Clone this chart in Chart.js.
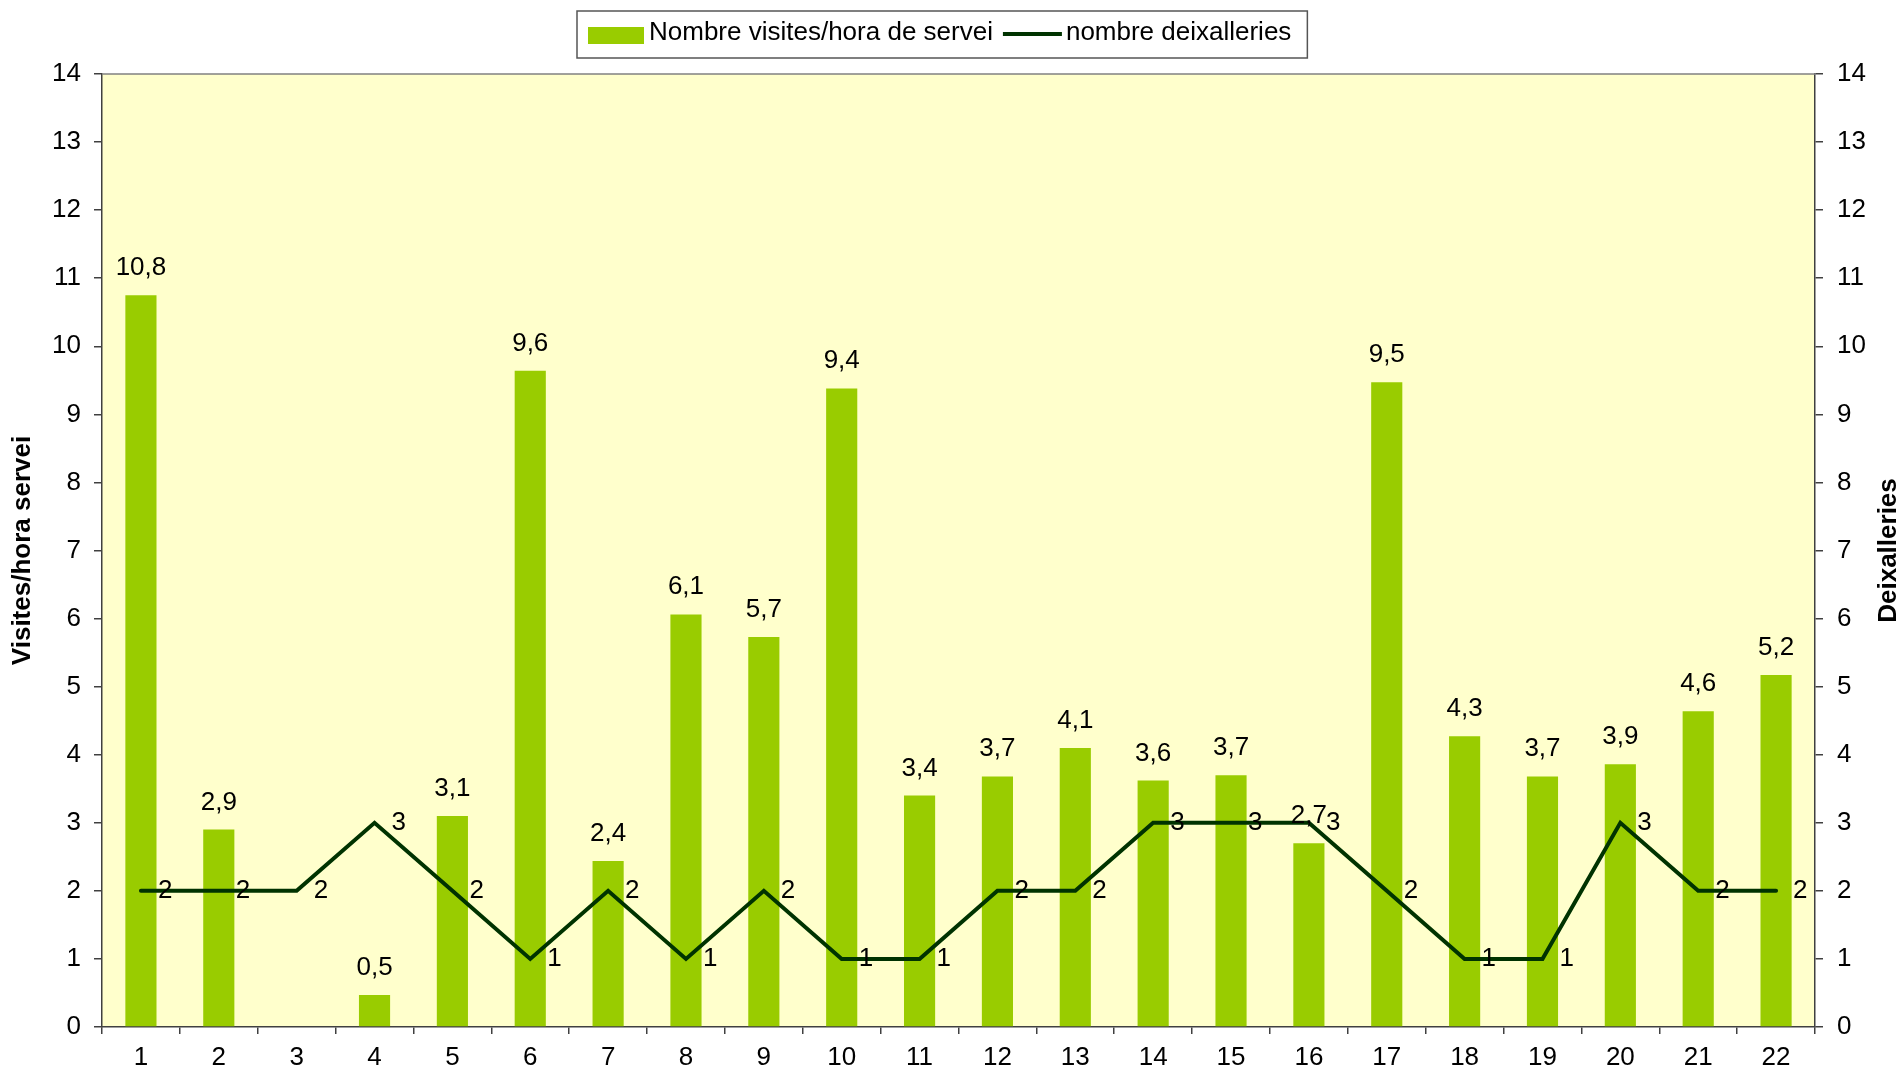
<!DOCTYPE html>
<html>
<head>
<meta charset="utf-8">
<script src="https://cdn.jsdelivr.net/npm/chart.js@4/dist/chart.umd.min.js"></script>
<style>
  html, body { margin: 0; padding: 0; background: #ffffff; }
  #wrap { width: 1903px; height: 1069px; }
</style>
</head>
<body>
<div id="wrap"><canvas id="c" width="1903" height="1069"></canvas></div>
<script>
// ---- data ----
const categories = ['1','2','3','4','5','6','7','8','9','10','11','12','13','14','15','16','17','18','19','20','21','22'];
const visitsPerHour = [10.75, 2.9, null, 0.47, 3.1, 9.64, 2.44, 6.06, 5.73, 9.38, 3.4, 3.68, 4.1, 3.62, 3.7, 2.7, 9.47, 4.27, 3.68, 3.86, 4.64, 5.17];
const facilityCount = [2, 2, 2, 3, 2, 1, 2, 1, 2, 1, 1, 2, 2, 3, 3, 3, 2, 1, 1, 3, 2, 2];
const seriesNames = ['Nombre visites/hora de servei', 'nombre deixalleries'];
const leftAxisTitle = 'Visites/hora servei';
const rightAxisTitle = 'Deixalleries';
const axisMin = 0, axisMax = 14, axisStep = 1;

// ---- style ----
const FONT = "'Liberation Sans', Arial, sans-serif";
const BAR_COLOR = '#99CC00';
const LINE_COLOR = '#003300';
const PLOT_BG = '#FFFFCC';
const AXIS_COLOR = '#404040';

function fmtDec(v) { return v.toFixed(1).replace('.', ','); }

const bgPlugin = {
  id: 'bgPlugin',
  beforeDraw(chart) {
    const {ctx, chartArea: a} = chart;
    ctx.save();
    ctx.fillStyle = '#ffffff';
    ctx.fillRect(0, 0, chart.width, chart.height);
    ctx.fillStyle = PLOT_BG;
    ctx.fillRect(a.left, a.top, a.right - a.left, a.bottom - a.top);
    ctx.restore();
  },
  afterDraw(chart) {
    const {ctx, chartArea: a} = chart;
    ctx.save();
    ctx.strokeStyle = '#808080';
    ctx.lineWidth = 1.5;
    ctx.beginPath();
    ctx.moveTo(a.left, a.top);
    ctx.lineTo(a.right, a.top);
    ctx.stroke();
    ctx.restore();
  }
};

const labelPlugin = {
  id: 'labelPlugin',
  afterDatasetsDraw(chart) {
    const {ctx} = chart;
    ctx.save();
    ctx.fillStyle = '#000000';
    ctx.font = '26px ' + FONT;
    // bar labels
    const barMeta = chart.getDatasetMeta(0);
    ctx.textAlign = 'center';
    ctx.textBaseline = 'alphabetic';
    barMeta.data.forEach((el, i) => {
      const v = chart.data.datasets[0].data[i];
      if (v === null || v === undefined) return;
      ctx.fillText(fmtDec(v), el.x, el.y - 20);
    });
    // line labels
    const lineMeta = chart.getDatasetMeta(1);
    ctx.textAlign = 'left';
    ctx.textBaseline = 'middle';
    lineMeta.data.forEach((el, i) => {
      const v = chart.data.datasets[1].data[i];
      if (v === null || v === undefined) return;
      ctx.fillText(String(v), el.x + 17, el.y);
    });
    ctx.restore();
  }
};

const legendPlugin = {
  id: 'legendPlugin',
  afterDraw(chart) {
    const {ctx} = chart;
    ctx.save();
    ctx.font = '26px ' + FONT;
    const w1 = ctx.measureText(seriesNames[0]).width;
    const w2 = ctx.measureText(seriesNames[1]).width;
    const boxLeft = 577, boxTop = 11, boxH = 47;
    const cy = boxTop + 22;
    let x = boxLeft + 11;
    ctx.fillStyle = BAR_COLOR;
    ctx.fillRect(x, cy - 6, 56, 17);
    x += 61;
    ctx.fillStyle = '#000000';
    ctx.textAlign = 'left';
    ctx.textBaseline = 'middle';
    ctx.fillText(seriesNames[0], x, cy);
    x += w1 + 10;
    ctx.strokeStyle = LINE_COLOR;
    ctx.lineWidth = 4;
    ctx.beginPath();
    ctx.moveTo(x, cy + 1);
    ctx.lineTo(x + 59, cy + 1);
    ctx.stroke();
    x += 63;
    ctx.fillText(seriesNames[1], x, cy);
    x += w2 + 16;
    ctx.strokeStyle = '#555555';
    ctx.lineWidth = 1.5;
    ctx.strokeRect(boxLeft, boxTop, x - boxLeft, boxH);
    ctx.restore();
  }
};

const rightTitlePlugin = {
  id: 'rightTitlePlugin',
  afterDraw(chart) {
    const {ctx, chartArea: a} = chart;
    ctx.save();
    ctx.font = 'bold 26px ' + FONT;
    ctx.fillStyle = '#000000';
    ctx.textAlign = 'center';
    ctx.textBaseline = 'middle';
    ctx.translate(1889, (a.top + a.bottom) / 2);
    ctx.rotate(-Math.PI / 2);
    ctx.fillText(rightAxisTitle, 0, 0);
    ctx.restore();
  }
};

const tickFont = { family: FONT, size: 26 };

new Chart(document.getElementById('c'), {
  data: {
    labels: categories,
    datasets: [
      {
        type: 'bar',
        label: seriesNames[0],
        data: visitsPerHour,
        backgroundColor: BAR_COLOR,
        borderWidth: 0,
        yAxisID: 'y',
        categoryPercentage: 1.0,
        barPercentage: 0.4,
        order: 2
      },
      {
        type: 'line',
        label: seriesNames[1],
        data: facilityCount,
        borderColor: LINE_COLOR,
        backgroundColor: LINE_COLOR,
        borderWidth: 4,
        borderCapStyle: 'round',
        borderJoinStyle: 'miter',
        pointRadius: 0,
        pointHoverRadius: 0,
        tension: 0,
        fill: false,
        yAxisID: 'y1',
        order: 1
      }
    ]
  },
  options: {
    responsive: false,
    animation: false,
    devicePixelRatio: 1,
    layout: { padding: { top: 74, left: 0, right: 0, bottom: 0 } },
    plugins: {
      legend: { display: false },
      tooltip: { enabled: false },
      title: { display: false }
    },
    scales: {
      x: {
        type: 'category',
        offset: true,
        grid: { offset: true, drawOnChartArea: false, drawTicks: true, tickLength: 7, color: AXIS_COLOR, lineWidth: 1.5 },
        border: { display: true, color: AXIS_COLOR, width: 1.5 },
        ticks: { font: tickFont, color: '#000000', padding: 8, maxRotation: 0, autoSkip: false },
        afterFit(s) { s.height = 42; }
      },
      y: {
        type: 'linear',
        position: 'left',
        min: axisMin,
        max: axisMax,
        grid: { drawOnChartArea: false, drawTicks: true, tickLength: 8, color: AXIS_COLOR, lineWidth: 1.5 },
        border: { display: true, color: AXIS_COLOR, width: 1.5 },
        ticks: { stepSize: axisStep, font: tickFont, color: '#000000', padding: 13 },
        title: { display: true, text: leftAxisTitle, color: '#000000', font: { family: FONT, size: 26, weight: 'bold' }, padding: { top: 7, bottom: 0 } },
        afterFit(s) { s.width = 102; }
      },
      y1: {
        type: 'linear',
        position: 'right',
        min: axisMin,
        max: axisMax,
        grid: { drawOnChartArea: false, drawTicks: true, tickLength: 8, color: AXIS_COLOR, lineWidth: 1.5 },
        border: { display: true, color: AXIS_COLOR, width: 1.5 },
        ticks: { stepSize: axisStep, font: tickFont, color: '#000000', padding: 14 },
        afterFit(s) { s.width = 88; }
      }
    }
  },
  plugins: [bgPlugin, labelPlugin, legendPlugin, rightTitlePlugin]
});
</script>
</body>
</html>
